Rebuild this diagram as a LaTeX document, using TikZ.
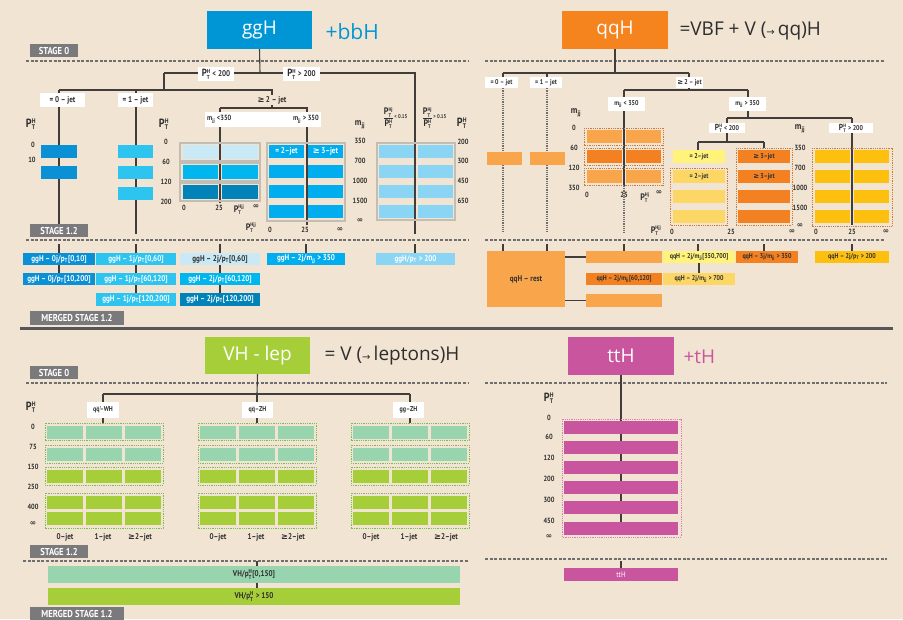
\documentclass[tikz,border=0pt]{standalone}
\usepackage{amsmath}
\usepackage{fontspec}
\setmainfont{PT Sans}
\newfontfamily\titlefont{Open Sans}
\newfontfamily\lblfont{PT Sans}[FakeStretch=0.86]
\newfontfamily\symfont{DejaVu Sans}
\usetikzlibrary{positioning}

\definecolor{wood}{HTML}{F1E4D2}
\definecolor{stagegray}{HTML}{7A7A7C}
\definecolor{dashgray}{HTML}{6F6F6F}
\definecolor{linedark}{HTML}{403D3A}
\definecolor{barsep}{HTML}{57575A}
\definecolor{darktext}{HTML}{2E2E2E}
\definecolor{ggblue}{HTML}{0096D6}
\definecolor{ggzero}{HTML}{0A90D4}
\definecolor{ggone}{HTML}{2DC4F0}
\definecolor{ggpale}{HTML}{C9E9F6}
\definecolor{ggmid}{HTML}{00B6EE}
\definecolor{ggdeep}{HTML}{0083B8}
\definecolor{ggvbf}{HTML}{00AEEF}
\definecolor{gghigh}{HTML}{8AD4F4}
\definecolor{ggframe}{HTML}{C4BDB3}
\definecolor{qqorange}{HTML}{F5841F}
\definecolor{qqlight}{HTML}{F8A54C}
\definecolor{qqdark}{HTML}{F38121}
\definecolor{qqyellow}{HTML}{FFF37A}
\definecolor{qqsand}{HTML}{FDD766}
\definecolor{qqgold}{HTML}{FDC00F}
\definecolor{qqframe}{HTML}{C97B3C}
\definecolor{vhgreen}{HTML}{A6CE39}
\definecolor{vhmint}{HTML}{98D5AF}
\definecolor{vhframe}{HTML}{7DBB5A}
\definecolor{ttpink}{HTML}{C8559E}
\definecolor{ttframe}{HTML}{DA7FB8}

\newcommand\stagesz{\lblfont\bfseries\fontsize{10}{11}\selectfont}
\newcommand\lblsz{\lblfont\bfseries\fontsize{8.3}{9}\selectfont}
\newcommand\qqsz{\lblfont\bfseries\fontsize{7}{8}\selectfont}
\newcommand\smlsz{\lblfont\bfseries\fontsize{7.5}{8}\selectfont}
\newcommand\ttlsz{\titlefont\fontsize{19}{21}\selectfont}
\newcommand\gesym{{\symfont ≥}}
\newcommand\infsym{{\symfont ∞}}
\newcommand\arrsym{{\symfont\fontsize{10}{10}\selectfont →}}
\newcommand\ptH{\scalebox{1.25}{P}$^{\text{H}}_{\text{T}}$}
\newcommand\ptHj{\scalebox{1.25}{P}$^{\text{Hj}}_{\text{T}}$}
\newcommand\ptHjj{\scalebox{1.25}{P}$^{\text{Hjj}}_{\text{T}}$}
\newcommand\mjj{m$_{\text{jj}}$}
\newcommand\pt{p$_{\text{T}}$}

\tikzset{
  spot/.style args={#1:#2:#3:#4}{at={({(#1+#3)/2},{(#2+#4)/2})},
    minimum width={(#3-#1)*1pt}, minimum height={(#4-#2)*1pt}, inner sep=0pt},
  titlebox/.style={inner sep=0pt, text=white, font=\ttlsz},
  extratext/.style={anchor=west, font=\titlefont\fontsize{19}{21}\selectfont},
  stagebox/.style={fill=stagegray, inner sep=0pt, text=white, font=\stagesz},
  sepline/.style={draw=dashgray, line width=1.3pt, dash pattern=on 3pt off 1.6pt},
  branch/.style={draw=linedark, line width=1.1pt},
  dotline/.style={draw=dashgray, line width=1.1pt, dash pattern=on 1.2pt off 1pt},
  cutlbl/.style={fill=white, inner sep=0pt, font=\lblsz, text=darktext},
  axlbl/.style={inner sep=0pt, font=\smlsz, text=darktext},
  axhead/.style={inner sep=0pt, font=\lblfont\bfseries\fontsize{9.5}{10}\selectfont, text=darktext},
  mbox/.style={inner sep=0pt, font=\lblsz},
  ggfr/.style={draw=ggframe, line width=1.2pt},
  qqfr/.style={draw=qqframe, line width=0.9pt, dash pattern=on 1pt off 0.8pt},
  vhfr/.style={draw=vhframe, line width=0.9pt, dash pattern=on 1pt off 0.8pt},
}

\begin{document}
\begin{tikzpicture}[x=1pt, y=-1pt]
  \useasboundingbox (0,0) rectangle (903,619);
  \fill[wood] (0,0) rectangle (903,619);

  % ---------------- ggH ----------------
  \node[titlebox, fill=ggblue, spot=207:11:312:49] (ggH) {ggH};
  \node[extratext, text=ggblue, font=\titlefont\fontsize{21}{23}\selectfont] (ggH-plus) at (322,32) {+bbH};
  \node[stagebox, spot=30:44:78:57] (gg-s0) {STAGE 0};
  \draw[sepline] (26,61) -- (468,61);

  \coordinate (gg-top) at (260,73);
  \coordinate (gg-lo) at (164,73);
  \coordinate (gg-hi) at (415,73);
  \coordinate (gg-hiend) at (415,234);
  \coordinate (gg-jl) at (59,90);
  \coordinate (gg-jm) at (164,90);
  \coordinate (gg-jr) at (272,90);
  \coordinate (gg-x1) at (136,90);
  \coordinate (gg-0end) at (59,234);
  \coordinate (gg-1end) at (136,234);
  \coordinate (gg-bl) at (220,108);
  \coordinate (gg-br) at (307,108);
  \coordinate (gg-blend) at (220,203);
  \coordinate (gg-brend) at (307,225);
  \draw[branch] (ggH.south) -- (gg-top);
  \draw[branch] (gg-lo) -- (gg-hi) -- (gg-hiend);
  \draw[branch] (gg-lo) -- (gg-jm);
  \draw[branch] (gg-jl) -- (gg-jr) -- (gg-jr |- gg-bl);
  \draw[branch] (gg-jl) -- (gg-0end);
  \draw[branch] (gg-x1) -- (gg-1end);
  \draw[branch] (gg-bl) -- (gg-br) -- (gg-brend);
  \draw[branch] (gg-bl) -- (gg-blend);

  \node[cutlbl, spot=198:67:234:81] (gg-lt200) {\ptH{} < 200};
  \node[cutlbl, spot=283:67:320:81] (gg-gt200) {\ptH{} > 200};
  \node[cutlbl, spot=40:93:85:107] (gg-j0) {= 0 – jet};
  \node[cutlbl, spot=118:93:153:107] (gg-j1) {= 1 – jet};
  \node[cutlbl, fill=wood, inner sep=1pt] (gg-j2) at (272,100) {\gesym\,2 – jet};
  \node[fill=white, spot=205:112:321:127] (gg-mjj) {};
  \node[axlbl, anchor=west] (gg-mjjlo) at (207,119.5) {\mjj{} <350};
  \node[axlbl, anchor=east] (gg-mjjhi) at (319,119.5) {\mjj{} > 350};

  % 0-jet and 1-jet bins
  \node[axhead] (gg-ax0) at (31,124) {\ptH};
  \node[axlbl] (gg-ax0-0) at (33,145) {0};
  \node[axlbl] (gg-ax0-10) at (32,160) {10};
  \fill[ggzero] (41,145) rectangle (77,158);
  \fill[ggzero] (41,166) rectangle (77,179);
  \foreach \y in {145,166,187}
    \fill[ggone] (118,\y) rectangle (153,\y+13);
  \node[axhead] (gg-ax1) at (164,124) {\ptH};
  \foreach \v/\y in {0/142,60/162,120/182,200/202}
    \node[axlbl] (gg-ax1-\v) at (166,\y) {\v};

  % 2-jet, mjj < 350
  \foreach \y in {143,163,183}
    \draw[ggfr] (180,\y) rectangle (260,\y+18);
  \foreach \y/\c in {145/ggpale,165/ggmid,185/ggdeep} {
    \fill[\c] (183,\y) rectangle (218,\y+14);
    \fill[\c] (222,\y) rectangle (258,\y+14);
  }
  \node[axlbl] (gg-lo-0) at (184,208) {0};
  \node[axlbl] (gg-lo-25) at (219,208) {25};
  \node[axlbl] (gg-lo-pt) at (239,210) {\ptHjj};
  \node[axlbl] (gg-lo-inf) at (256,207) {\infsym};

  % 2-jet, mjj > 350
  \draw[ggfr] (267,143) rectangle (345,221);
  \foreach \y in {145,165,185,205} {
    \fill[ggvbf] (269,\y) rectangle (304,\y+13);
    \fill[ggvbf] (308,\y) rectangle (343,\y+13);
  }
  \node[mbox, text=white] (gg-2jet) at (286.5,151.5) {= 2–jet};
  \node[mbox, text=white] (gg-3jet) at (325.5,151.5) {\gesym\,3–jet};
  \node[axlbl] (gg-hi-pt) at (251,228) {\ptHjj};
  \node[axlbl] (gg-hi-0) at (270,230) {0};
  \node[axlbl] (gg-hi-25) at (305,230) {25};
  \node[axlbl] (gg-hi-inf) at (340,230) {\infsym};
  \node[axhead] (gg-axm) at (360,125) {\mjj};
  \foreach \v/\y in {350/141,700/161,1000/181,1500/201}
    \node[axlbl] (gg-axm-\v) at (360,\y) {\v};
  \node[axlbl] (gg-axm-inf) at (360,221) {\infsym};

  % pT > 200
  \draw[ggfr] (377,143) rectangle (455,220);
  \foreach \y in {145,165,185,205} {
    \fill[gghigh] (379,\y) rectangle (414,\y+13);
    \fill[gghigh] (418,\y) rectangle (453,\y+13);
  }
  \node[axlbl] (gg-frlo) at (395,118) {$\dfrac{\text{\ptHj}}{\text{\ptH}}$\raisebox{2pt}{\fontsize{5.5}{6}\selectfont< 0.15}};
  \node[axlbl] (gg-frhi) at (434,118) {$\dfrac{\text{\ptHj}}{\text{\ptH}}$\raisebox{2pt}{\fontsize{5.5}{6}\selectfont> 0.15}};
  \node[axhead] (gg-ax2) at (462,123) {\ptH};
  \foreach \v/\y in {200/142,300/161,450/181,650/201}
    \node[axlbl] (gg-ax2-\v) at (463,\y) {\v};

  % ggH : stage 1.2 merged
  \node[stagebox, spot=30:224:88:237] (gg-s12) {STAGE 1.2};
  \draw[sepline] (26,240) -- (468,240);
  \node[mbox, fill=ggzero, text=white, spot=23:253:95:265] (gg-m0a) {ggH – 0j/\pt[0,10]};
  \node[mbox, fill=ggzero, text=white, spot=23:273:95:285] (gg-m0b) {ggH – 0j/\pt[10,200]};
  \node[mbox, fill=ggone, text=white, spot=96:253:176:265] (gg-m1a) {ggH – 1j/\pt[0,60]};
  \node[mbox, fill=ggone, text=white, spot=96:273:176:285] (gg-m1b) {ggH – 1j/\pt[60,120]};
  \node[mbox, fill=ggone, text=white, spot=96:293:176:306] (gg-m1c) {ggH – 1j/\pt[120,200]};
  \node[mbox, fill=ggpale, text=darktext, spot=180:253:260:265] (gg-m2a) {ggH – 2j/\pt[0,60]};
  \node[mbox, fill=ggmid, text=white, spot=180:273:260:285] (gg-m2b) {ggH – 2j/\pt[60,120]};
  \node[mbox, fill=ggdeep, text=white, spot=180:293:260:306] (gg-m2c) {ggH – 2j/\pt[120,200]};
  \node[mbox, fill=ggvbf, text=white, spot=267:253:345:265] (gg-m3) {ggH – 2j/\mjj{} > 350};
  \node[mbox, fill=gghigh, text=white, spot=376:253:455:265] (gg-m4) {ggH/\pt{} > 200};
  \coordinate (gg-t0) at (59,244);
  \coordinate (gg-t1) at (136,244);
  \coordinate (gg-t2) at (220,244);
  \coordinate (gg-t3) at (306,244);
  \coordinate (gg-t4) at (415,244);
  \draw[branch] (gg-t0) -- (gg-t0 |- gg-m0a.north);
  \draw[branch] (gg-t1) -- (gg-t1 |- gg-m1a.north);
  \draw[branch] (gg-t2) -- (gg-t2 |- gg-m2a.north);
  \draw[branch] (gg-t3) -- (gg-t3 |- gg-m3.north);
  \draw[branch] (gg-t4) -- (gg-t4 |- gg-m4.north);
  \draw[branch] (gg-m0a.south -| gg-t0) -- (gg-m0b.north -| gg-t0);
  \draw[branch] (gg-m1a.south -| gg-t1) -- (gg-m1b.north -| gg-t1);
  \draw[branch] (gg-m1b.south -| gg-t1) -- (gg-m1c.north -| gg-t1);
  \draw[branch] (gg-m2a.south -| gg-t2) -- (gg-m2b.north -| gg-t2);
  \draw[branch] (gg-m2b.south -| gg-t2) -- (gg-m2c.north -| gg-t2);
  \node[stagebox, spot=30:311:124:325] (gg-ms) {MERGED STAGE 1.2};

  \fill[barsep] (20,327) rectangle (893,330);

  % ---------------- qqH ----------------
  \node[titlebox, fill=qqorange, spot=562:11:668:49] (qqH) {qqH};
  \node[extratext, text=darktext] (qqH-plus) at (676,31) {=VBF + V (\arrsym\,qq)H};
  \draw[sepline] (485,61) -- (885,61);

  \coordinate (qq-top) at (615,73);
  \coordinate (qq-l) at (503,73);
  \coordinate (qq-m) at (547,73);
  \coordinate (qq-r) at (689,73);
  \coordinate (qq-2l) at (624,90);
  \coordinate (qq-2r) at (748,90);
  \coordinate (qq-0end) at (503,233);
  \coordinate (qq-1end) at (547,233);
  \coordinate (qq-lomid) at (624,186);
  \coordinate (qq-loend) at (624,233);
  \coordinate (qq-3m) at (748,118);
  \coordinate (qq-3l) at (727,118);
  \coordinate (qq-3r) at (852,118);
  \coordinate (qq-4m) at (727,142);
  \coordinate (qq-4l) at (698,142);
  \coordinate (qq-4r) at (764,142);
  \coordinate (qq-hiend) at (852,225);
  \node[cutlbl, font=\qqsz, spot=485:77:518:88] (qq-j0) {= 0 – jet};
  \node[cutlbl, font=\qqsz, spot=530:77:562:88] (qq-j1) {= 1 – jet};
  \node[cutlbl, font=\qqsz, spot=676:77:703:88] (qq-j2) {\gesym\,2 – jet};
  \node[cutlbl, font=\qqsz, spot=608:97:645:111] (qq-mlo) {\mjj{} < 350};
  \node[cutlbl, font=\qqsz, spot=729:97:766:111] (qq-mhi) {\mjj{} > 350};
  \node[cutlbl, font=\qqsz, spot=709:123:745:133] (qq-ptlo) {\ptH{} < 200};
  \node[cutlbl, font=\qqsz, spot=829:123:873:133] (qq-pthi) {\ptH{} > 200};
  \draw[branch] (qqH.south) -- (qq-top);
  \draw[branch] (qq-l) -- (qq-r);
  \draw[branch] (qq-l) -- (qq-l |- qq-j0.north);
  \draw[branch] (qq-m) -- (qq-m |- qq-j1.north);
  \draw[branch] (qq-r) -- (qq-r |- qq-j2.north);
  \draw[branch] (qq-j2.south -| qq-r) -- (qq-r |- qq-2l);
  \draw[branch] (qq-2l) -- (qq-2r);
  \draw[branch] (qq-2l) -- (qq-2l |- qq-mlo.north);
  \draw[branch] (qq-2r) -- (qq-2r |- qq-mhi.north);
  \draw[dotline] (qq-l |- qq-j0.south) -- (qq-0end);
  \draw[dotline] (qq-m |- qq-j1.south) -- (qq-1end);
  \draw[branch] (qq-2l |- qq-mlo.south) -- (qq-lomid);
  \draw[dotline] (qq-lomid) -- (qq-loend);
  \draw[branch] (qq-2r |- qq-mhi.south) -- (qq-3m);
  \draw[branch] (qq-3l) -- (qq-3r);
  \draw[branch] (qq-3l) -- (qq-3l |- qq-ptlo.north);
  \draw[branch] (qq-3r) -- (qq-3r |- qq-pthi.north);
  \draw[branch] (qq-ptlo.south -| qq-4m) -- (qq-4m);
  \draw[branch] (qq-4l) -- (qq-4r);
  \draw[branch] (qq-4l) -- (698,150);
  \draw[branch] (qq-4r) -- (764,148);
  \draw[branch] (qq-pthi.south -| qq-3r) -- (qq-hiend);

  % 0-jet, 1-jet
  \fill[qqlight] (487,152) rectangle (522,165);
  \fill[qqlight] (530,152) rectangle (565,165);

  % mjj < 350
  \node[axhead] (qq-axm) at (576,113) {\mjj};
  \foreach \v/\y in {0/128,60/148,120/168,350/188}
    \node[axlbl] (qq-axm-\v) at (574,\y) {\v};
  \foreach \y/\c in {128/qqlight,148/qqdark,168/qqlight} {
    \draw[qqfr] (584,\y) rectangle (663,\y+17);
    \fill[\c] (587,\y+2) rectangle (622,\y+15);
    \fill[\c] (626,\y+2) rectangle (661,\y+15);
  }
  \node[axlbl] (qq-lo-0) at (587,195) {0};
  \node[axlbl] (qq-lo-25) at (624,195) {25};
  \node[axlbl] (qq-lo-pt) at (645,198) {\ptHj};
  \node[axlbl] (qq-lo-inf) at (659,193) {\infsym};

  % mjj > 350, pT < 200
  \node[mbox, font=\qqsz, fill=qqyellow, text=darktext, spot=673:150:725:163] (qq-y2) {= 2–jet};
  \draw[qqfr] (670,168) rectangle (727,225);
  \foreach \y in {170,190,210}
    \fill[qqsand] (673,\y) rectangle (725,\y+13);
  \node[mbox, font=\qqsz, text=darktext] (qq-s2) at (699,176.5) {= 2–jet};
  \draw[qqfr] (736,148) rectangle (792,225);
  \foreach \y in {150,170,190,210}
    \fill[qqdark] (738,\y) rectangle (790,\y+13);
  \node[mbox, font=\qqsz, text=darktext] (qq-d3a) at (764,156.5) {\gesym\,3–jet};
  \node[mbox, font=\qqsz, text=darktext] (qq-d3b) at (764,176.5) {\gesym\,3–jet};
  \node[axlbl] (qq-mi-pt) at (656,231) {\ptHjj};
  \node[axlbl] (qq-mi-0) at (672,232) {0};
  \node[axlbl] (qq-mi-25) at (731,232) {25};
  \node[axlbl] (qq-mi-inf) at (792,232) {\infsym};

  % pT > 200
  \node[axhead] (qq-axh) at (800,129) {\mjj};
  \foreach \v/\y in {350/148,700/168,1000/188,1500/208}
    \node[axlbl] (qq-axh-\v) at (800,\y) {\v};
  \node[axlbl] (qq-axh-inf) at (800,226) {\infsym};
  \draw[qqfr] (812,148) rectangle (892,226);
  \foreach \y in {150,170,190,210} {
    \fill[qqgold] (815,\y) rectangle (850,\y+13);
    \fill[qqgold] (854,\y) rectangle (889,\y+13);
  }
  \node[axlbl] (qq-hi-0) at (816,232) {0};
  \node[axlbl] (qq-hi-25) at (852,232) {25};
  \node[axlbl] (qq-hi-inf) at (886,232) {\infsym};

  % qqH : merged
  \draw[sepline] (485,240) -- (885,240);
  \node[mbox, font=\lblsz, fill=qqlight, text=darktext, spot=487:251:565:307] (qq-rest) {qqH – rest};
  \node[mbox, fill=qqlight, spot=586:251:662:263] (qq-mb1) {};
  \node[mbox, font=\qqsz, fill=qqdark, text=darktext, spot=586:273:662:285] (qq-mb2) {qqH – 2j/\mjj[60,120]};
  \node[mbox, fill=qqlight, spot=586:294:662:307] (qq-mb3) {};
  \node[mbox, font=\qqsz, fill=qqyellow, text=darktext, spot=663:251:735:263] (qq-mc1) {qqH – 2j/\mjj[350,700]};
  \node[mbox, font=\qqsz, fill=qqsand, text=darktext, spot=663:273:735:285] (qq-mc2) {qqH – 2j/\mjj{} > 700};
  \node[mbox, font=\qqsz, fill=qqdark, text=darktext, spot=736:251:798:263] (qq-md) {qqH – 3j/\mjj{} > 350};
  \node[mbox, font=\qqsz, fill=qqgold, text=darktext, spot=815:251:889:263] (qq-me) {qqH – 2j/\pt{} > 200};
  \foreach \x in {503,547,624,698,764,852}
    \draw[branch] (\x,244) -- (\x,251);
  \draw[branch] (qq-rest.east |- qq-mb1.west) -- (qq-mb1.west);
  \draw[branch] (qq-rest.east |- qq-mb3.west) -- (qq-mb3.west);
  \draw[branch] (qq-mc1.south) -- (qq-mc2.north);

  % ---------------- VH - lep ----------------
  \node[titlebox, fill=vhgreen, spot=205:337:310:374] (VH) {VH - lep};
  \node[extratext, text=darktext] (VH-plus) at (321,356) {= V (\arrsym\,leptons)H};
  \node[stagebox, spot=30:366:78:379] (vh-s0) {STAGE 0};
  \draw[sepline] (26,383) -- (468,383);
  \coordinate (vh-top) at (257,394);
  \coordinate (vh-l) at (103,394);
  \coordinate (vh-r) at (410,394);
  \node[cutlbl, font=\qqsz, spot=87:402:119:418] (vh-wh) {q$\bar{\text{q}}$'–WH};
  \node[cutlbl, font=\qqsz, spot=242:402:273:418] (vh-zh) {q$\bar{\text{q}}$–ZH};
  \node[cutlbl, font=\qqsz, spot=393:402:424:418] (vh-gg) {gg–ZH};
  \draw[branch] (VH.south) -- (vh-top);
  \draw[branch] (vh-l) -- (vh-r);
  \draw[branch] (vh-l) -- (vh-l |- vh-wh.north);
  \draw[branch] (vh-top) -- (vh-top |- vh-zh.north);
  \draw[branch] (vh-r) -- (vh-r |- vh-gg.north);
  \draw[branch] (vh-l |- vh-wh.south) -- (103,423);
  \draw[branch] (vh-top |- vh-zh.south) -- (257,423);
  \draw[branch] (vh-r |- vh-gg.south) -- (410,423);

  \node[axhead] (vh-ax) at (31,407) {\ptH};
  \foreach \v/\y in {0/427,75/447,150/467,250/487,400/507}
    \node[axlbl] (vh-ax-\v) at (33,\y) {\v};
  \node[axlbl] (vh-ax-inf) at (33,524) {\infsym};
  \foreach \gx/\gn in {45/a,198/b,351/c} {
    \draw[vhfr] (\gx,423) rectangle (\gx+118,440);
    \draw[vhfr] (\gx,445) rectangle (\gx+118,463);
    \draw[vhfr] (\gx,467) rectangle (\gx+118,485);
    \draw[vhfr] (\gx,493) rectangle (\gx+118,528);
    \foreach \cx in {2,41,80}
      \foreach \y/\c in {426/vhmint,448/vhmint,470/vhgreen,496/vhgreen,512/vhgreen}
        \fill[\c] (\gx+\cx,\y) rectangle (\gx+\cx+36,\y+13);
    \node[axlbl, font=\lblsz] (vh-\gn-0j) at (\gx+20,537) {0–jet};
    \node[axlbl, font=\lblsz] (vh-\gn-1j) at (\gx+58,537) {1–jet};
    \node[axlbl, font=\lblsz] (vh-\gn-2j) at (\gx+95,537) {\gesym 2–jet};
  }

  % VH : merged
  \node[stagebox, spot=30:545:88:558] (vh-s12) {STAGE 1.2};
  \draw[sepline] (23,561) -- (468,561);
  \node[mbox, fill=vhmint, text=darktext, spot=48:566:460:583] (vh-m1) {VH/p$^{\text{H}}_{\text{T}}$[0,150]};
  \node[mbox, fill=vhgreen, text=darktext, spot=48:588:460:605] (vh-m2) {VH/p$^{\text{H}}_{\text{T}}$ > 150};
  \draw[branch] (257,561) -- (vh-m1.north -| vh-top);
  \draw[branch] (vh-m1.south -| vh-top) -- (vh-m2.north -| vh-top);
  \node[stagebox, spot=30:607:124:621] (vh-ms) {MERGED STAGE 1.2};

  % ---------------- ttH ----------------
  \node[titlebox, fill=ttpink, spot=568:337:674:375] (ttH) {ttH};
  \node[extratext, text=ttpink] (ttH-plus) at (680,357) {+tH};
  \draw[sepline] (485,383) -- (887,383);
  \coordinate (tt-end) at (621,522);
  \draw[branch] (ttH.south) -- (tt-end);
  \node[axhead] (tt-ax) at (549,398) {\ptH};
  \foreach \v/\y in {0/418,60/437,120/458,200/479,300/500,450/521}
    \node[axlbl] (tt-ax-\v) at (549,\y) {\v};
  \node[axlbl] (tt-ax-inf) at (549,537) {\infsym};
  \draw[draw=ttframe, line width=0.9pt, dash pattern=on 1pt off 0.8pt] (562,419) rectangle (681,537);
  \foreach \y in {421,441,461,481,501,522}
    \fill[ttpink] (564,\y) rectangle (678,\y+13);
  \draw[sepline] (485,559) -- (887,559);
  \node[mbox, font=\lblfont\fontsize{8}{9}\selectfont, fill=ttpink, text=white, spot=564:568:678:581] (tt-m) {ttH};
  \draw[branch] (621,561) -- (tt-m.north);
\end{tikzpicture}
\end{document}
